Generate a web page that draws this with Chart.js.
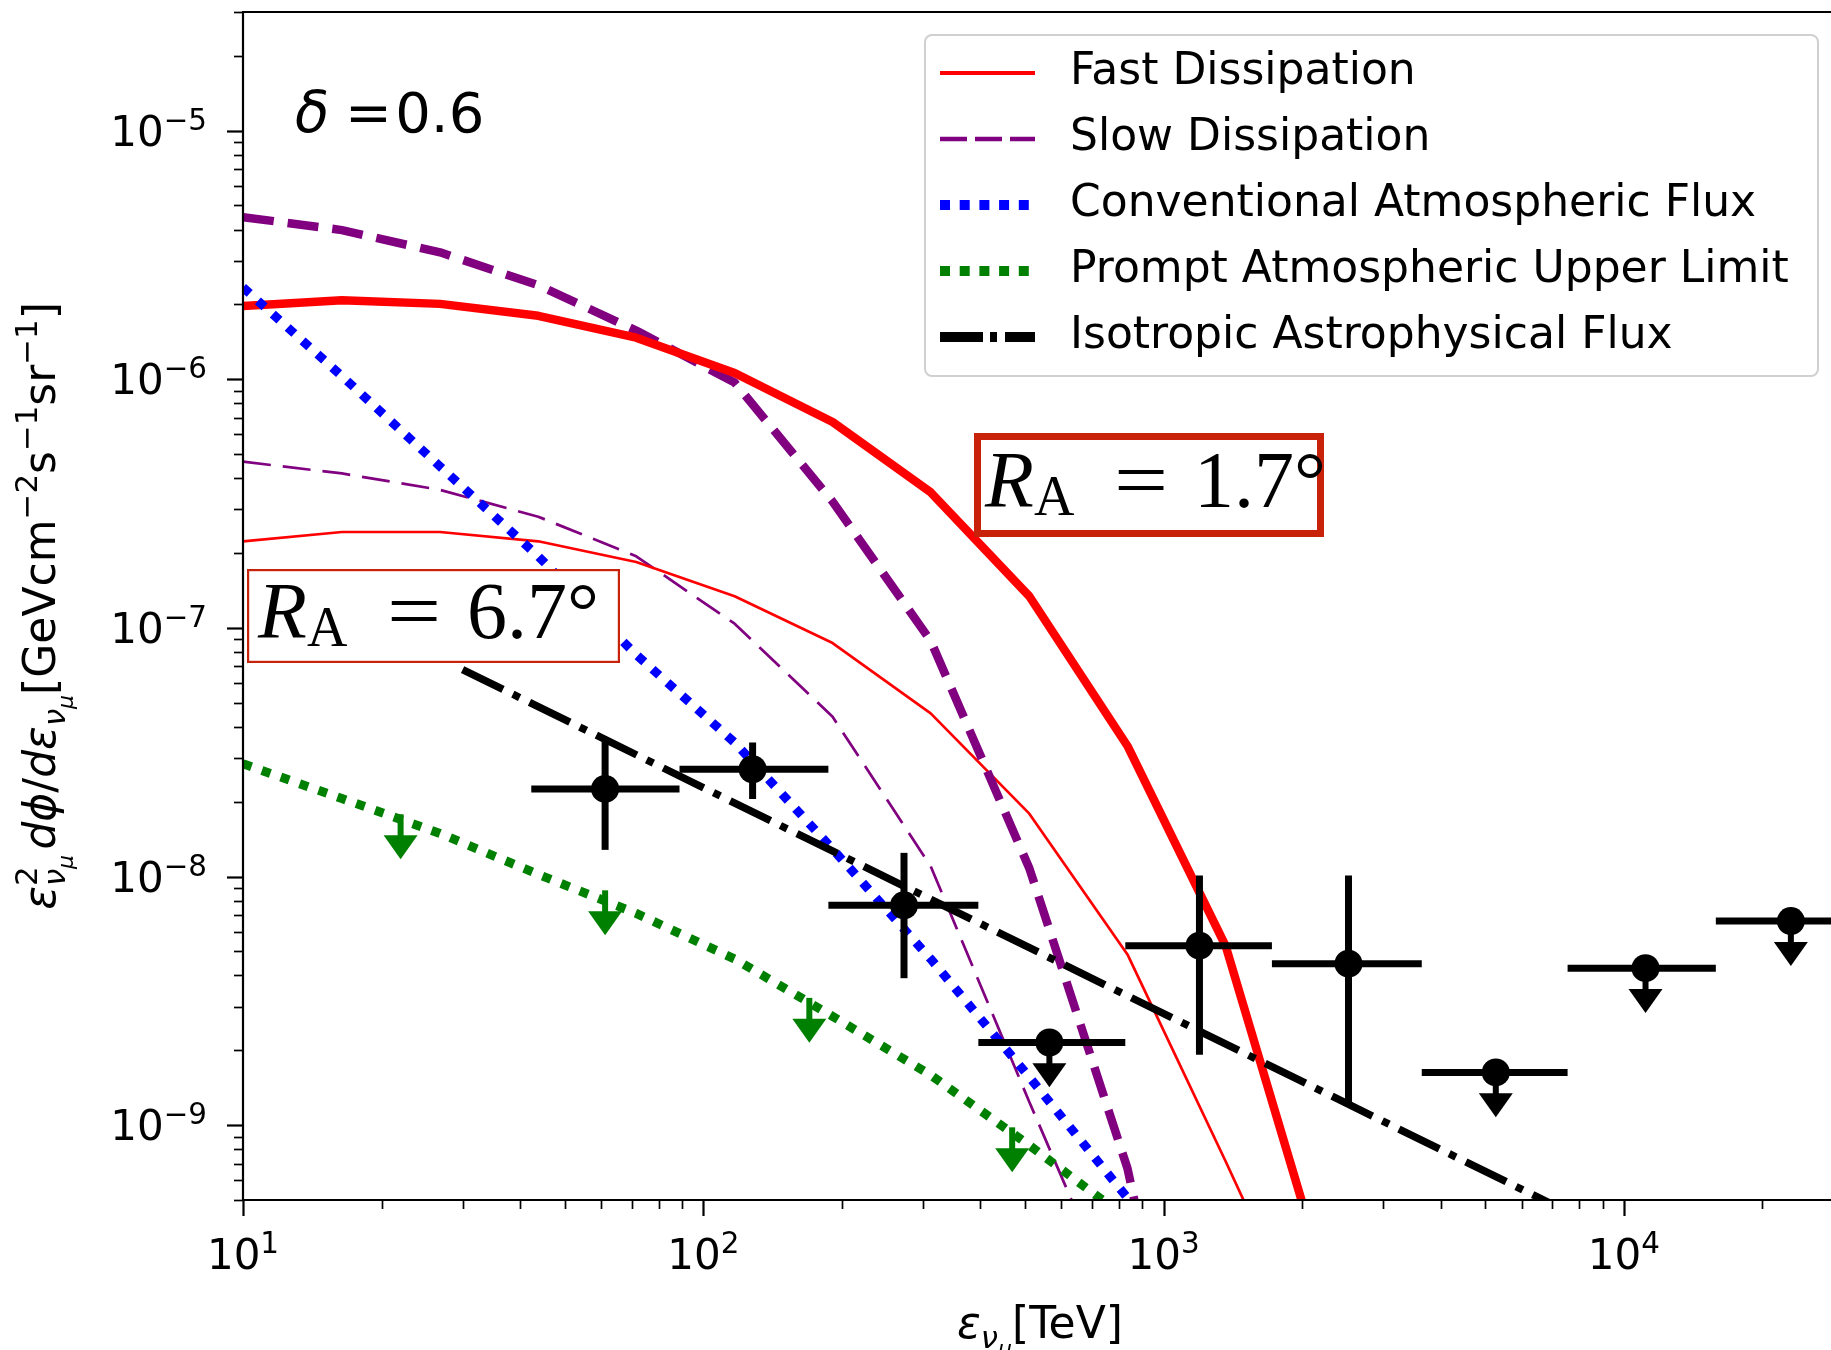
<!DOCTYPE html>
<html>
<head>
<meta charset="utf-8">
<title>Muon neutrino flux</title>
<script src="https://cdn.jsdelivr.net/npm/chart.js@4.4.1/dist/chart.umd.min.js"></script>
<style>
   html, body { margin: 0; padding: 0; background: #ffffff; overflow: hidden; }
   .chart-box { position: relative; width: 1831px; height: 1350px; }
   canvas { display: block; }
</style>
</head>
<body>
<div class="chart-box"><canvas id="fluxChart"></canvas></div>
<script>
"use strict";

// model curves on a common energy grid [TeV], flux in GeV cm^-2 s^-1 sr^-1
const modelEnergy = [10, 16.4, 26.8, 43.8, 71.5, 117, 191, 312, 511, 835, 1365, 2230];
const fastNarrow = [1.97e-6, 2.08e-6, 2.01e-6, 1.8e-6, 1.47e-6, 1.06e-6, 6.73e-7, 3.51e-7, 1.34e-7, 3.35e-8, 5.25e-9, 2.5e-10];
const slowNarrow = [4.49e-6, 3.98e-6, 3.24e-6, 2.39e-6, 1.57e-6, 9.7e-7, 3.22e-7, 8.87e-8, 1.08e-8, 6.7e-10, 1e-11];
const fastWide = [2.23e-7, 2.43e-7, 2.43e-7, 2.23e-7, 1.84e-7, 1.34e-7, 8.69e-8, 4.53e-8, 1.79e-8, 4.86e-9, 7.14e-10, 1e-10];
const slowWide = [4.66e-7, 4.18e-7, 3.59e-7, 2.8e-7, 1.94e-7, 1.04e-7, 4.39e-8, 1.1e-8, 1.24e-9, 1.5e-10];
const conventional = [2.34e-6, 1.03e-6, 4.46e-7, 1.94e-7, 7.8e-8, 3.46e-8, 1.29e-8, 4.66e-9, 1.56e-9, 5.1e-10, 1.6e-10];
const promptLimit = [2.84e-8, 2.06e-8, 1.49e-8, 1.02e-8, 7.11e-9, 4.66e-9, 2.74e-9, 1.59e-9, 8.3e-10, 4.2e-10];

// down arrows sitting on the prompt upper limit
const promptArrowEnergy = [22, 61.2, 170, 469];
const promptArrowFlux = [1.78e-8, 8.8e-9, 3.25e-9, 9.8e-10];

// isotropic astrophysical power law (end points)
const isoEnergy = [30, 7000];
const isoFlux = [6.8e-8, 4.8e-10];

// measured bins
const binCenter = [61.2, 128, 273, 565, 1197, 2523, 5272, 11150, 23070];
const binLow = [42.3, 88.8, 187, 396, 826, 1720, 3640, 7550, 15850];
const binHigh = [88.8, 187, 396, 826, 1720, 3640, 7550, 15850, 33650];
const binFlux = [2.25e-8, 2.7e-8, 7.66e-9, 2.15e-9, 5.27e-9, 4.46e-9, 1.63e-9, 4.28e-9, 6.62e-9];
const binFluxHigh = [3.51e-8, 3.46e-8, 1.245e-8, null, 1.01e-8, 1.01e-8, null, null, null];
const binFluxLow = [1.28e-8, 2.05e-8, 3.9e-9, null, 1.92e-9, 1.22e-9, null, null, null];
const binUpperLimit = [false, false, false, true, false, false, true, true, true];

// axis ticks
const xTickValues = [10, 100, 1000, 10000];
const xTickExponents = ["1", "2", "3", "4"];
const yTickValues = [1e-9, 1e-8, 1e-7, 1e-6, 1e-5];
const yTickExponents = ["−9", "−8", "−7", "−6", "−5"];

const RED = "#ff0000";
const PURPLE = "#800080";
const BLUE = "#0000ff";
const GREEN = "#008000";
const SANS = "'DejaVu Sans', sans-serif";
const SERIF = "'Liberation Serif', 'DejaVu Serif', serif";
const arrowDrop = 0.66;

const points = (xs, ys) =>
   ys.map((y, i) => ({ x: xs[i], y: y })).filter((p) => p.y !== null);

const curve = (data, color, width, dash) => ({
   data: data,
   borderColor: color,
   backgroundColor: color,
   borderWidth: width,
   borderDash: dash,
   borderCapStyle: "butt",
   borderJoinStyle: "round",
   pointRadius: 0,
   fill: false,
   tension: 0,
   clip: 0,
});

// little mathtext-style text runs: {t, s: scale, dy: shift in em, it: italic, keep: no advance}
const runFont = (size, italic, family) => (italic ? "italic " : "") + size + "px " + (family || SANS);

function layoutRuns(ctx, runs, F) {
   let x = 0;
   const items = [];
   for (const r of runs) {
      const size = F * (r.s || 1);
      ctx.font = runFont(size, r.it, r.f);
      const w = ctx.measureText(r.t).width;
      items.push(Object.assign({}, r, { size: size, x: x, w: w }));
      if (!r.keep) x += w + (r.gap || 0) * F;
   }
   return { items: items, width: x };
}

function drawRuns(ctx, runs, F, x0, y0, align) {
   const lay = layoutRuns(ctx, runs, F);
   let start = x0;
   if (align === "center") start = x0 - lay.width / 2;
   if (align === "right") start = x0 - lay.width;
   ctx.textBaseline = "alphabetic";
   ctx.textAlign = "left";
   for (const it of lay.items) {
      ctx.font = runFont(it.size, it.it, it.f);
      ctx.fillText(it.t, start + it.x, y0 + (it.dy || 0) * F);
   }
}

const powerRuns = (exp) => [{ t: "10" }, { t: exp, s: 0.7, dy: -0.38 }];

const xTitleRuns = [
   { t: "ε", it: true },
   { t: "ν", s: 0.7, dy: 0.22, it: true },
   { t: "μ", s: 0.5, dy: 0.4, it: true },
   { t: "[TeV]" },
];

const yTitleRuns = [
   { t: "ε", it: true },
   { t: "2", s: 0.7, dy: -0.42, keep: true },
   { t: "ν", s: 0.7, dy: 0.22, it: true },
   { t: "μ", s: 0.5, dy: 0.4, it: true, gap: 0.12 },
   { t: "dϕ", it: true },
   { t: "/" },
   { t: "dε", it: true },
   { t: "ν", s: 0.7, dy: 0.22, it: true },
   { t: "μ", s: 0.5, dy: 0.4, it: true },
   { t: "[GeVcm" },
   { t: "−2", s: 0.7, dy: -0.42 },
   { t: "s" },
   { t: "−1", s: 0.7, dy: -0.42 },
   { t: "sr" },
   { t: "−1", s: 0.7, dy: -0.42 },
   { t: "]" },
];

const deltaRuns = [{ t: "δ", it: true, gap: 0.28 }, { t: "=", gap: 0.06 }, { t: "0.6" }];

// R_A boxes: outer rectangle and border width
const radiusBoxes = [
   { value: "1.7°", left: 974, top: 433, width: 350, height: 104, border: 7 },
   { value: "6.7°", left: 247, top: 569, width: 373, height: 94, border: 2.2 },
];

const legendItems = [
   { label: "Fast Dissipation", color: RED, width: 4, dash: [] },
   { label: "Slow Dissipation", color: PURPLE, width: 4.5, dash: [27, 8] },
   { label: "Conventional Atmospheric Flux", color: BLUE, width: 10, dash: [10, 9.7] },
   { label: "Prompt Atmospheric Upper Limit", color: GREEN, width: 10, dash: [10, 9.7] },
   { label: "Isotropic Astrophysical Flux", color: "#000000", width: 10, dash: [43, 7, 7, 8] },
];

function drawArrow(ctx, px, yTop, yTip, color, lw) {
   const headH = 24;
   const headW = 34;
   ctx.strokeStyle = color;
   ctx.fillStyle = color;
   ctx.lineWidth = lw;
   ctx.setLineDash([]);
   ctx.beginPath();
   ctx.moveTo(px, yTop);
   ctx.lineTo(px, yTip - headH + 1);
   ctx.stroke();
   ctx.beginPath();
   ctx.moveTo(px - headW / 2, yTip - headH);
   ctx.lineTo(px + headW / 2, yTip - headH);
   ctx.lineTo(px, yTip);
   ctx.closePath();
   ctx.fill();
}

const fluxDecor = {
   id: "fluxDecor",
   afterDatasetsDraw(chart) {
      const ctx = chart.ctx;
      const a = chart.chartArea;
      const xs = chart.scales.x;
      const ys = chart.scales.y;
      ctx.save();
      ctx.beginPath();
      ctx.rect(a.left, a.top, a.right - a.left, a.bottom - a.top);
      ctx.clip();

      // prompt upper-limit arrows
      promptArrowEnergy.forEach((e, i) => {
         const px = xs.getPixelForValue(e);
         drawArrow(ctx, px, ys.getPixelForValue(promptArrowFlux[i]),
            ys.getPixelForValue(promptArrowFlux[i] * arrowDrop), GREEN, 6);
      });

      // error bars of the measured bins
      ctx.lineCap = "butt";
      binCenter.forEach((e, i) => {
         const px = xs.getPixelForValue(e);
         const py = ys.getPixelForValue(binFlux[i]);
         ctx.strokeStyle = "#000000";
         ctx.lineWidth = 7;
         ctx.setLineDash([]);
         ctx.beginPath();
         ctx.moveTo(xs.getPixelForValue(binLow[i]), py);
         ctx.lineTo(xs.getPixelForValue(binHigh[i]), py);
         ctx.stroke();
         if (binUpperLimit[i]) {
            drawArrow(ctx, px, py, ys.getPixelForValue(binFlux[i] * arrowDrop), "#000000", 6);
         } else {
            ctx.beginPath();
            ctx.moveTo(px, ys.getPixelForValue(binFluxHigh[i]));
            ctx.lineTo(px, ys.getPixelForValue(binFluxLow[i]));
            ctx.stroke();
         }
      });
      ctx.restore();
   },
   afterDraw(chart) {
      const ctx = chart.ctx;
      const a = chart.chartArea;
      const xs = chart.scales.x;
      const ys = chart.scales.y;
      ctx.save();
      ctx.fillStyle = "#000000";
      ctx.strokeStyle = "#000000";
      ctx.setLineDash([]);

      // spines (the right side runs off the canvas)
      ctx.lineWidth = 2.2;
      ctx.beginPath();
      ctx.moveTo(a.right + 2, a.top);
      ctx.lineTo(a.left, a.top);
      ctx.lineTo(a.left, a.bottom);
      ctx.lineTo(a.right + 2, a.bottom);
      ctx.stroke();

      // major and minor ticks, pointing out
      const tick = (major) => {
         ctx.lineWidth = major ? 2.2 : 1.7;
         return major ? 16 : 9;
      };
      for (let d = -10; d <= -4; d++) {
         for (let m = 1; m <= 9; m++) {
            const v = m * Math.pow(10, d);
            if (v < ys.min * 0.999 || v > ys.max * 1.001) continue;
            const py = Math.round(ys.getPixelForValue(v)) + 0.5;
            const len = tick(m === 1);
            ctx.beginPath();
            ctx.moveTo(a.left, py);
            ctx.lineTo(a.left - len, py);
            ctx.stroke();
         }
      }
      for (let d = 1; d <= 4; d++) {
         for (let m = 1; m <= 9; m++) {
            const v = m * Math.pow(10, d);
            if (v < xs.min * 0.999 || v > xs.max) continue;
            const px = Math.round(xs.getPixelForValue(v)) + 0.5;
            const len = tick(m === 1);
            ctx.beginPath();
            ctx.moveTo(px, a.bottom);
            ctx.lineTo(px, a.bottom + len);
            ctx.stroke();
         }
      }

      // tick labels
      const TF = 42;
      yTickValues.forEach((v, i) => {
         const py = ys.getPixelForValue(v);
         drawRuns(ctx, powerRuns(yTickExponents[i]), TF, a.left - 36, py + 0.36 * TF, "right");
      });
      xTickValues.forEach((v, i) => {
         const px = xs.getPixelForValue(v);
         drawRuns(ctx, powerRuns(xTickExponents[i]), TF, px, a.bottom + 69, "center");
      });

      // axis titles
      drawRuns(ctx, xTitleRuns, 44, 1040, 1338, "center");
      ctx.save();
      ctx.translate(55, (a.top + a.bottom) / 2);
      ctx.rotate(-Math.PI / 2);
      drawRuns(ctx, yTitleRuns, 44, 0, 0, "center");
      ctx.restore();

      // delta label
      drawRuns(ctx, deltaRuns, 56, 295, 132, "left");

      // R_A boxes
      radiusBoxes.forEach((b) => {
         const h = b.border / 2;
         ctx.fillStyle = "#ffffff";
         ctx.fillRect(b.left, b.top, b.width, b.height);
         ctx.strokeStyle = "#c8230a";
         ctx.lineWidth = b.border;
         ctx.strokeRect(b.left + h, b.top + h, b.width - b.border, b.height - b.border);
         ctx.fillStyle = "#000000";
         const base = b.top + (b.height + 44) / 2;
         ctx.textBaseline = "alphabetic";
         ctx.textAlign = "left";
         ctx.font = "italic 80px " + SERIF;
         ctx.fillText("R", b.left + 11, base);
         ctx.font = "56px " + SERIF;
         ctx.fillText("A", b.left + 60, base + 8);
         ctx.font = "80px " + SERIF;
         // the equals sign of the math font is wider than the serif one
         ctx.save();
         ctx.translate(b.left + 140, base);
         ctx.scale(1.2, 1);
         ctx.fillText("=", 0, 0);
         ctx.restore();
         ctx.fillText(b.value, b.left + 220, base);
      });

      // legend
      const L = { left: 925, top: 35, right: 1818, bottom: 376 };
      ctx.fillStyle = "rgba(255,255,255,0.85)";
      ctx.strokeStyle = "#d0d0d0";
      ctx.lineWidth = 2;
      ctx.beginPath();
      ctx.roundRect(L.left, L.top, L.right - L.left, L.bottom - L.top, 7);
      ctx.fill();
      ctx.stroke();
      legendItems.forEach((item, i) => {
         const y = 73 + i * 66;
         ctx.strokeStyle = item.color;
         ctx.lineWidth = item.width;
         ctx.lineCap = "butt";
         ctx.setLineDash(item.dash);
         ctx.beginPath();
         ctx.moveTo(940, y);
         ctx.lineTo(1035, y);
         ctx.stroke();
         ctx.setLineDash([]);
         ctx.fillStyle = "#000000";
         ctx.font = "44px " + SANS;
         ctx.textBaseline = "middle";
         ctx.textAlign = "left";
         ctx.fillText(item.label, 1070, y);
      });
      ctx.restore();
   },
};

const ctx = document.getElementById("fluxChart").getContext("2d");
const fluxChart = new Chart(ctx, {
   type: "line",
   data: {
      datasets: [
         {
            label: "data",
            data: points(binCenter, binFlux),
            showLine: false,
            pointRadius: 14,
            pointHoverRadius: 14,
            pointBackgroundColor: "#000000",
            pointBorderColor: "#000000",
            pointBorderWidth: 0,
            clip: 0,
         },
         Object.assign(curve(points(isoEnergy, isoFlux), "#000000", 7.5, [45, 11, 7.5, 11]), { label: "Isotropic Astrophysical Flux" }),
         Object.assign(curve(points(modelEnergy, promptLimit), GREEN, 9, [9, 11]), { label: "Prompt Atmospheric Upper Limit" }),
         Object.assign(curve(points(modelEnergy, conventional), BLUE, 9, [9, 11]), { label: "Conventional Atmospheric Flux" }),
         Object.assign(curve(points(modelEnergy, fastNarrow), RED, 8.5, []), { label: "Fast Dissipation" }),
         Object.assign(curve(points(modelEnergy, slowNarrow), PURPLE, 8.5, [31, 14]), { label: "Slow Dissipation" }),
         Object.assign(curve(points(modelEnergy, fastWide), RED, 2.7, []), { label: "Fast Dissipation (6.7)" }),
         Object.assign(curve(points(modelEnergy, slowWide), PURPLE, 2.7, [28, 12]), { label: "Slow Dissipation (6.7)" }),
      ],
   },
   options: {
      responsive: true,
      maintainAspectRatio: false,
      devicePixelRatio: 1,
      animation: false,
      layout: { autoPadding: false, padding: { top: 12, right: 0, bottom: 0, left: 0 } },
      plugins: {
         legend: { display: false },
         tooltip: { enabled: false },
      },
      scales: {
         x: {
            type: "logarithmic",
            min: 10,
            max: 28200,
            grid: { display: false },
            border: { display: false },
            ticks: { display: false },
            afterFit: (scale) => {
               scale.height = 150;
            },
         },
         y: {
            type: "logarithmic",
            min: 5e-10,
            max: 3e-5,
            grid: { display: false },
            border: { display: false },
            ticks: { display: false },
            afterFit: (scale) => {
               scale.width = 243;
            },
         },
      },
   },
   plugins: [fluxDecor],
});
</script>
</body>
</html>
